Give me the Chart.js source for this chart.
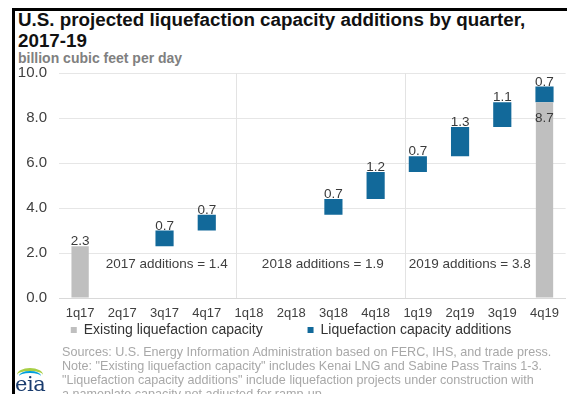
<!DOCTYPE html>
<html>
<head>
<meta charset="utf-8">
<script src="https://cdn.jsdelivr.net/npm/chart.js@4"></script>
<style>
  html, body { margin: 0; padding: 0; background: #fff; }
  body { width: 567px; height: 394px; position: relative; overflow: hidden; font-family: "Liberation Sans", Arial, sans-serif; }
  #frame { position: absolute; left: 12px; top: 8px; width: 600px; height: 400px; border-left: 3px solid #000; border-top: 3px solid #000; }
  #title { position: absolute; left: 18px; top: 10px; font-size: 18.8px; font-weight: bold; line-height: 20.5px; color: #111; white-space: nowrap; }
  #sub { position: absolute; left: 18px; top: 50px; font-size: 14px; font-weight: bold; color: #808080; white-space: nowrap; }
  #wrap { position: absolute; left: 0; top: 52px; width: 567px; height: 295px; }
  #src { position: absolute; left: 62px; top: 346px; font-size: 12.6px; line-height: 13.9px; color: #a8a8a8; white-space: nowrap; }
  #logo { position: absolute; left: 14px; top: 365px; width: 30px; height: 30px; }
  #logo .arc { position: absolute; left: 3px; top: 3px; width: 26px; height: 14px; border-radius: 50% 50% 0 0; border-top: 3px solid #a8cf45; box-sizing: border-box; }
  #logo .arc2 { position: absolute; left: 5px; top: 6px; width: 22px; height: 10px; border-radius: 50% 50% 0 0; border-top: 2px solid #00a0dc; box-sizing: border-box; }
  #logo .txt { position: absolute; left: 1px; top: 7px; font-family: "DejaVu Serif", serif; font-size: 21px; color: #1a3c6e; letter-spacing: -0.5px; }
</style>
</head>
<body>
<div id="frame"></div>
<div id="title">U.S. projected liquefaction capacity additions by quarter,<br>2017-19</div>
<div id="sub">billion cubic feet per day</div>
<div id="wrap"><canvas id="c"></canvas></div>
<div id="src">Sources: U.S. Energy Information Administration based on FERC, IHS, and trade press.<br>Note: "Existing liquefaction capacity" includes Kenai LNG and Sabine Pass Trains 1-3.<br>"Liquefaction capacity additions" include liquefaction projects under construction with<br>a nameplate capacity not adjusted for ramp-up.</div>
<div id="logo"><div class="arc"></div><div class="arc2"></div><div class="txt">eia</div></div>
<script>
const quarters = ['1q17','2q17','3q17','4q17','1q18','2q18','3q18','4q18','1q19','2q19','3q19','4q19'];
const years = ['2017','2018','2019'];
const existing = [2.3, null, null, null, null, null, null, null, null, null, null, 8.7];
const additions = [null, null, 0.7, 0.7, null, null, 0.7, 1.2, 0.7, 1.3, 1.1, 0.7];
const yTicks = [0, 2, 4, 6, 8, 10];

const GRAY = '#bfbfbf';
const BLUE = '#12699a';
const FONT = '"Liberation Sans", Arial, sans-serif';

// waterfall ranges built from the data
const existingRanges = existing.map(v => v == null ? null : [0, v]);
let running = existing[0];
const additionRanges = additions.map(v => {
  if (v == null) return null;
  const r = [running, +(running + v).toFixed(1)];
  running = r[1];
  return r;
});
const yearTotals = years.map((y, k) => additions.slice(k * 4, k * 4 + 4).reduce((s, v) => s + (v || 0), 0));

const overlay = {
  id: 'overlay',
  afterDatasetsDraw(chart) {
    const {ctx, scales: {x, y}} = chart;
    const step = x.getPixelForValue(1) - x.getPixelForValue(0);
    ctx.save();
    // year separators
    ctx.strokeStyle = '#e3e3e3';
    ctx.lineWidth = 1;
    [3.7, 7.7].forEach(v => {
      const px = Math.round(x.getPixelForValue(0) + v * step) + 0.5;
      ctx.beginPath(); ctx.moveTo(px, y.getPixelForValue(10)); ctx.lineTo(px, y.getPixelForValue(0)); ctx.stroke();
    });
    // value labels
    ctx.font = '13.5px ' + FONT;
    ctx.fillStyle = '#3a3a3a';
    ctx.textAlign = 'center';
    ctx.textBaseline = 'alphabetic';
    quarters.forEach((q, i) => {
      const cx = x.getPixelForValue(i);
      if (additionRanges[i]) {
        ctx.fillText(additions[i].toFixed(1), cx, y.getPixelForValue(additionRanges[i][1]) - 1);
      }
      if (existing[i] != null) {
        if (additionRanges[i]) ctx.fillText(existing[i].toFixed(1), cx, y.getPixelForValue(existing[i]) + 20);
        else ctx.fillText(existing[i].toFixed(1), cx, y.getPixelForValue(existing[i]) - 1);
      }
    });
    // yearly totals
    ctx.textBaseline = 'middle';
    ctx.fillStyle = '#404040';
    [2.05, 5.75, 9.23].forEach((v, k) => {
      ctx.fillText(years[k] + ' additions = ' + yearTotals[k].toFixed(1), x.getPixelForValue(0) + v * step, y.getPixelForValue(1.5));
    });
    ctx.restore();
  }
};

new Chart(document.getElementById('c'), {
  type: 'bar',
  data: {
    labels: quarters,
    datasets: [
      { label: 'Existing liquefaction capacity', data: existingRanges, backgroundColor: GRAY, grouped: false, categoryPercentage: 1, barPercentage: 0.41, borderSkipped: false },
      { label: 'Liquefaction capacity additions', data: additionRanges, backgroundColor: BLUE, grouped: false, categoryPercentage: 1, barPercentage: 0.43, borderSkipped: false }
    ]
  },
  options: {
    responsive: true,
    maintainAspectRatio: false,
    animation: false,
    events: [],
    layout: { padding: { top: 2, right: 1, left: 16, bottom: 0 } },
    scales: {
      x: {
        grid: { display: false, drawTicks: false },
        border: { color: '#d9d9d9' },
        ticks: { color: '#404040', font: { size: 13, family: FONT }, padding: 8, maxRotation: 0, autoSkip: false },
        afterFit: s => { s.height = 23; }
      },
      y: {
        min: 0, max: 10,
        afterBuildTicks: s => { s.ticks = yTicks.map(v => ({ value: v })); },
        grid: { color: '#e6e6e6', drawTicks: false },
        border: { display: false },
        ticks: { color: '#404040', font: { size: 15, family: FONT }, padding: 12, callback: v => v.toFixed(1) },
        afterFit: s => { s.width = 43; }
      }
    },
    plugins: {
      legend: {
        position: 'bottom',
        labels: {
          color: '#333', font: { size: 14, family: FONT }, boxWidth: 6, boxHeight: 6, padding: 2,
          generateLabels: chart => chart.data.datasets.map((d, i) => ({
            text: i === 0 ? d.label + '\u00a0'.repeat(11) : d.label,
            fillStyle: d.backgroundColor, strokeStyle: d.backgroundColor, lineWidth: 0,
            datasetIndex: i, hidden: false, fontColor: '#333'
          }))
        }
      },
      tooltip: { enabled: false }
    }
  },
  plugins: [overlay]
});
</script>
</body>
</html>
